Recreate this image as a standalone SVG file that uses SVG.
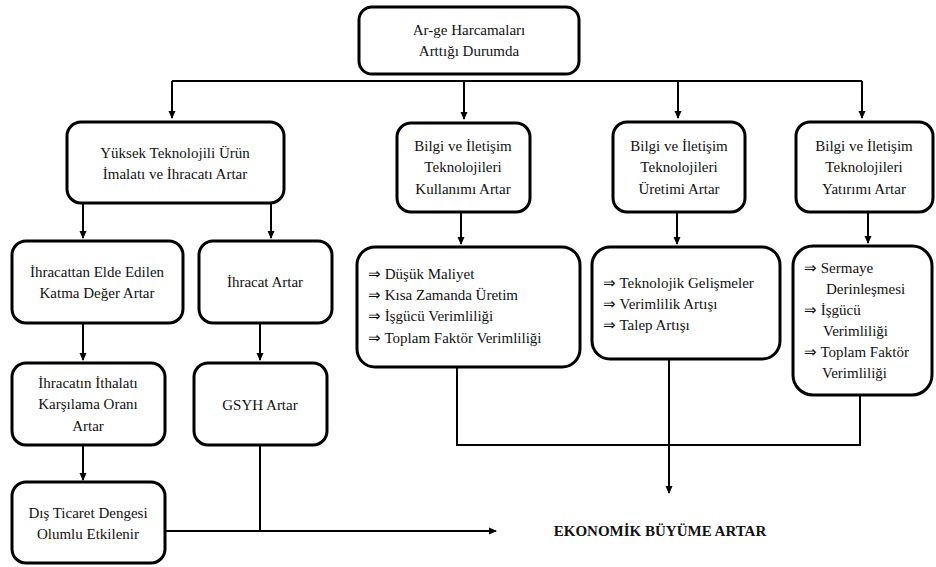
<svg xmlns="http://www.w3.org/2000/svg" width="936" height="567" viewBox="0 0 936 567">
<defs>
<marker id="ah" markerWidth="8" markerHeight="8" refX="7" refY="4" orient="auto" markerUnits="userSpaceOnUse">
<path d="M0,0.5 L8,4 L0,7.5 Z" fill="#000"/>
</marker>
<style>
.box{fill:#fff;stroke:#000;stroke-width:3}
.c{fill:none;stroke:#000;stroke-width:2}
.a{marker-end:url(#ah)}
.m{text-anchor:middle}
.b{font-weight:bold}
</style>
</defs>
<rect width="936" height="567" fill="#fff"/>
<g id="connectors">
<path class="c" d="M172,81 H862"/>
<path class="c a" d="M172,81 V118"/>
<path class="c a" d="M464,81 V119"/>
<path class="c a" d="M678,81 V118"/>
<path class="c a" d="M862,81 V118"/>
<path class="c a" d="M83,203 V238"/>
<path class="c a" d="M271,203 V238"/>
<path class="c a" d="M83,323 V360"/>
<path class="c a" d="M260,323 V360"/>
<path class="c a" d="M83,445 V480"/>
<path class="c a" d="M461,212 V244"/>
<path class="c a" d="M677,212 V244"/>
<path class="c a" d="M868,212 V243"/>
<path class="c" d="M457,367 V445 H860 V395"/>
<path class="c a" d="M669,359 V493"/>
<path class="c" d="M260,445 V531"/>
<path class="c a" d="M165,531 H496"/>
</g>
<g id="nodes" font-family="Liberation Serif, Times New Roman, serif" font-size="15" fill="#111">
<g id="n_top">
<rect class="box" x="359" y="7" width="220" height="67" rx="13"/>
<text class="m" x="469" y="35">Ar-ge Harcamaları</text>
<text class="m" x="469" y="56">Arttığı Durumda</text>
</g>
<g id="n_yuksek">
<rect class="box" x="67" y="122" width="217" height="81" rx="14"/>
<text class="m" x="175" y="158">Yüksek Teknolojili Ürün</text>
<text class="m" x="175" y="179">İmalatı ve İhracatı Artar</text>
</g>
<g id="n_kullanim">
<rect class="box" x="397" y="123" width="133" height="89" rx="14"/>
<text class="m" x="463" y="151">Bilgi ve İletişim</text>
<text class="m" x="463" y="172">Teknolojileri</text>
<text class="m" x="463" y="194">Kullanımı Artar</text>
</g>
<g id="n_uretim">
<rect class="box" x="613" y="122" width="132" height="90" rx="14"/>
<text class="m" x="679" y="151">Bilgi ve İletişim</text>
<text class="m" x="679" y="172">Teknolojileri</text>
<text class="m" x="679" y="194">Üretimi Artar</text>
</g>
<g id="n_yatirim">
<rect class="box" x="796" y="122" width="137" height="90" rx="14"/>
<text class="m" x="864" y="151">Bilgi ve İletişim</text>
<text class="m" x="864" y="172">Teknolojileri</text>
<text class="m" x="864" y="194">Yatırımı Artar</text>
</g>
<g id="n_katma">
<rect class="box" x="12" y="241" width="171" height="82" rx="14"/>
<text class="m" x="97" y="277">İhracattan Elde Edilen</text>
<text class="m" x="97" y="298">Katma Değer Artar</text>
</g>
<g id="n_ihracat">
<rect class="box" x="199" y="241" width="133" height="82" rx="14"/>
<text class="m" x="265" y="287">İhracat Artar</text>
</g>
<g id="n_dusuk">
<rect class="box" x="357" y="247" width="223" height="120" rx="18"/>
<text x="368" y="279">⇒ Düşük Maliyet</text>
<text x="368" y="300">⇒ Kısa Zamanda Üretim</text>
<text x="368" y="321">⇒ İşgücü Verimliliği</text>
<text x="368" y="343">⇒ Toplam Faktör Verimliliği</text>
</g>
<g id="n_teknolojik">
<rect class="box" x="592" y="247" width="188" height="112" rx="18"/>
<text x="603" y="288">⇒ Teknolojik Gelişmeler</text>
<text x="603" y="309">⇒ Verimlilik Artışı</text>
<text x="603" y="330">⇒ Talep Artışı</text>
</g>
<g id="n_sermaye">
<rect class="box" x="793" y="246" width="139" height="149" rx="20"/>
<text x="804" y="273">⇒ Sermaye</text>
<text x="826" y="294">Derinleşmesi</text>
<text x="804" y="315">⇒ İşgücü</text>
<text x="823" y="336">Verimliliği</text>
<text x="804" y="357">⇒ Toplam Faktör</text>
<text x="822" y="378">Verimliliği</text>
</g>
<g id="n_karsilama">
<rect class="box" x="12" y="363" width="153" height="82" rx="14"/>
<text class="m" x="88" y="388">İhracatın İthalatı</text>
<text class="m" x="88" y="409">Karşılama Oranı</text>
<text class="m" x="88" y="431">Artar</text>
</g>
<g id="n_gsyh">
<rect class="box" x="194" y="363" width="133" height="82" rx="14"/>
<text class="m" x="260" y="410">GSYH Artar</text>
</g>
<g id="n_dis">
<rect class="box" x="12" y="482" width="153" height="81" rx="14"/>
<text class="m" x="88" y="518">Dış Ticaret Dengesi</text>
<text class="m" x="88" y="539">Olumlu Etkilenir</text>
</g>
<g id="n_ekonomik">
<text class="m b" x="660" y="536">EKONOMİK BÜYÜME ARTAR</text>
</g>
</g>
</svg>
